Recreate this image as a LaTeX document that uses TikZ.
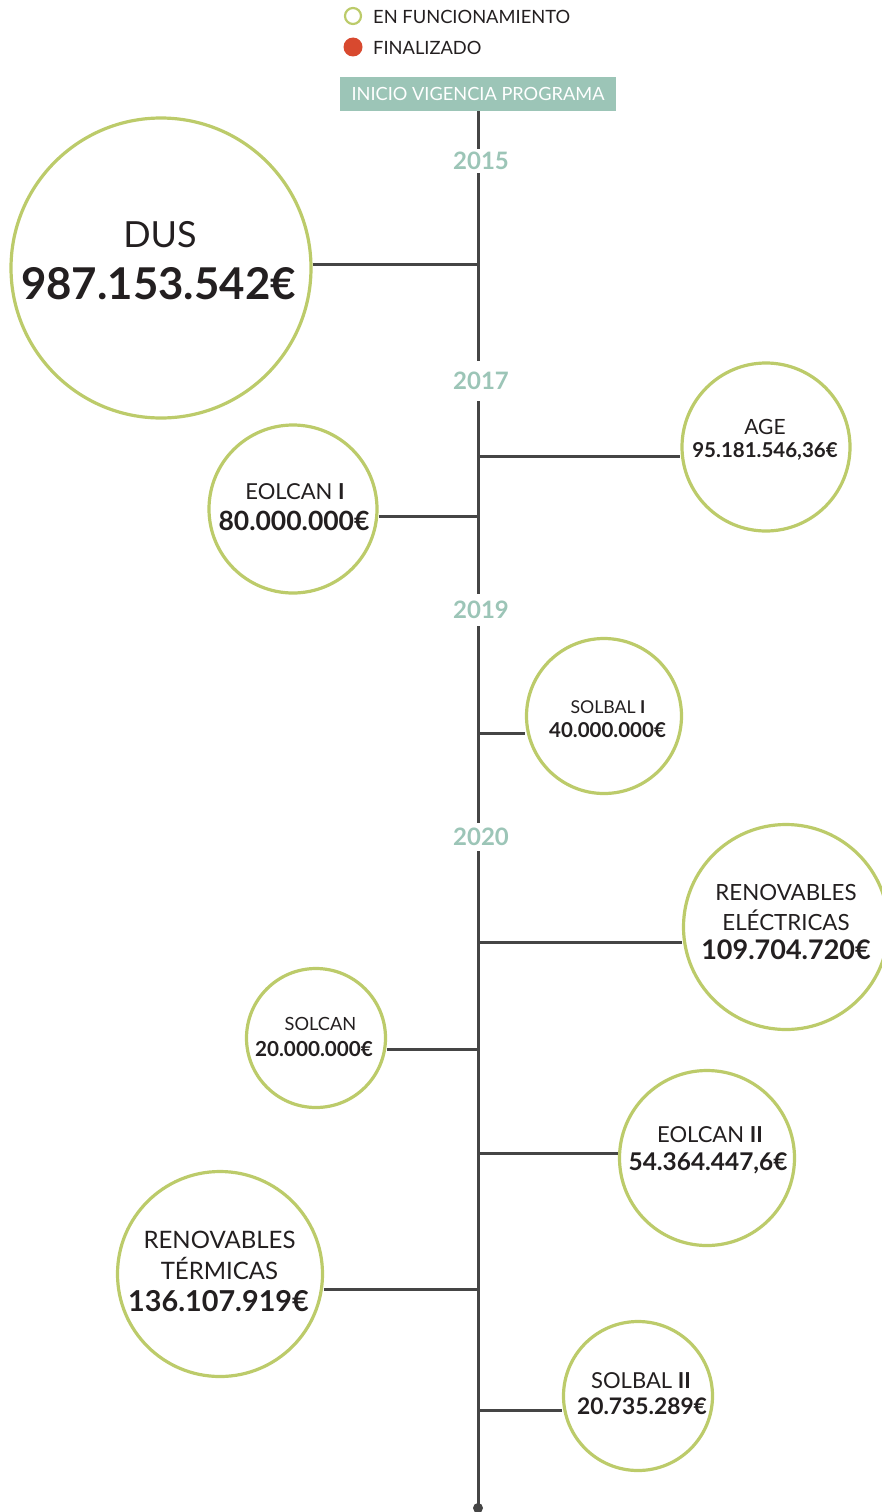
\documentclass[tikz,border=0pt]{standalone}
\usepackage{fontspec}
\setmainfont{Lato}
\definecolor{lineg}{HTML}{454545}
\definecolor{circg}{HTML}{BCCB6A}
\definecolor{teal}{HTML}{9CC5B7}
\definecolor{redf}{HTML}{D8492F}
\definecolor{txt}{HTML}{231F20}
\begin{document}
\begin{tikzpicture}[x=1pt,y=-1pt,
  prog/.style={circle,draw=circg,line width=3.2pt,fill=white,inner sep=0pt,minimum size=#1},
  conn/.style={draw=lineg,line width=3pt},
  yearlbl/.style={fill=white,text=teal,font=\fontsize{24}{26}\selectfont\bfseries,inner sep=0pt,minimum height=#1},
  nm/.style={text=txt,font=\fontsize{#1}{#1}\selectfont,inner sep=0pt},
  val/.style={text=txt,font=\fontsize{#1}{#1}\selectfont\bfseries,inner sep=0pt},
  leg/.style={text=txt,font=\fontsize{18.3}{20}\selectfont,anchor=west,inner sep=0pt}]
\useasboundingbox (0,0) rectangle (881,1512);
% legend
\node[circle,draw=circg,line width=2.2pt,minimum size=16pt,inner sep=0pt] (l1) at (353,16) {};
\node[leg] (l1t) at (373,16.5) {EN FUNCIONAMIENTO};
\node[circle,fill=redf,minimum size=19pt,inner sep=0pt] (l2) at (353,47) {};
\node[leg] (l2t) at (373,47.5) {FINALIZADO};
% start box
\node[fill=teal,text=white,minimum width=276pt,minimum height=34pt,inner sep=0pt,font=\fontsize{18.2}{20}\selectfont] (start) at (478,94) {INICIO VIGENCIA PROGRAMA};
\coordinate (end) at (478,1508);
\draw[conn] (start.south) -- (end);
\fill[lineg] (end) circle (5pt);
% years
\node[yearlbl=24pt] (y15) at (481,161) {2015};
\node[yearlbl=40pt] (y17) at (481,381) {2017};
\node[yearlbl=32pt] (y19) at (481,610) {2019};
\node[yearlbl=28pt] (y20) at (481,837) {2020};
% spine junctions
\coordinate (j1) at (478,264);
\coordinate (j2) at (478,456);
\coordinate (j3) at (478,516);
\coordinate (j4) at (478,733);
\coordinate (j5) at (478,942);
\coordinate (j6) at (478,1049);
\coordinate (j7) at (478,1153);
\coordinate (j8) at (478,1289);
\coordinate (j9) at (478,1410);
% circles
\node[prog=300pt] (dus) at (161,268) {};
\node[prog=168pt] (age) at (766,447) {};
\node[prog=168pt] (eol1) at (293,509) {};
\node[prog=155pt] (sb1) at (604,716) {};
\node[prog=205pt] (rel) at (786,927) {};
\node[prog=139pt] (scan) at (316,1038) {};
\node[prog=175pt] (eol2) at (707,1158) {};
\node[prog=205pt] (rter) at (220,1274) {};
\node[prog=149pt] (sb2) at (638,1396) {};
% connectors
\draw[conn] (j1) -- (j1 -| dus.east);
\draw[conn] (j2) -- (j2 -| age.west);
\draw[conn] (j3) -- (j3 -| eol1.east);
\draw[conn] (j4) -- (j4 -| sb1.west);
\draw[conn] (j5) -- (j5 -| rel.west);
\draw[conn] (j6) -- (j6 -| scan.east);
\draw[conn] (j7) -- (j7 -| eol2.west);
\draw[conn] (j8) -- (j8 -| rter.east);
\draw[conn] (j9) -- (j9 -| sb2.west);
% texts
\node[nm=36] (dusn) at (160,235) {DUS};
\node[val=43.8] (dusv) at (158.5,284) {987.153.542€};
\node[nm=21] (agen) at (765,427) {AGE};
\node[val=20.5] (agev) at (765,451) {95.181.546,36€};
\node[nm=22] (eol1n) at (295,492) {EOLCAN \textbf{I}};
\node[val=26.5] (eol1v) at (294,521) {80.000.000€};
\node[nm=17.7] (sb1n) at (608,707) {SOLBAL \textbf{I}};
\node[val=20.5] (sb1v) at (607.5,730) {40.000.000€};
\node[nm=22.3] (reln1) at (786,893) {RENOVABLES};
\node[nm=22.3] (reln2) at (786,920) {ELÉCTRICAS};
\node[val=27] (relv) at (786,950) {109.704.720€};
\node[nm=18.2] (scann) at (320.5,1024) {SOLCAN};
\node[val=20.7] (scanv) at (314,1049) {20.000.000€};
\node[nm=22] (eol2n) at (710,1135) {EOLCAN \textbf{II}};
\node[val=24.4] (eol2v) at (708,1163) {54.364.447,6€};
\node[nm=24] (rtern1) at (219.5,1240) {RENOVABLES};
\node[nm=24] (rtern2) at (219.5,1268) {TÉRMICAS};
\node[val=28.8] (rterv) at (218.5,1301) {136.107.919€};
\node[nm=22] (sb2n) at (641,1381) {SOLBAL \textbf{II}};
\node[val=22.8] (sb2v) at (642,1406) {20.735.289€};
\end{tikzpicture}
\end{document}
